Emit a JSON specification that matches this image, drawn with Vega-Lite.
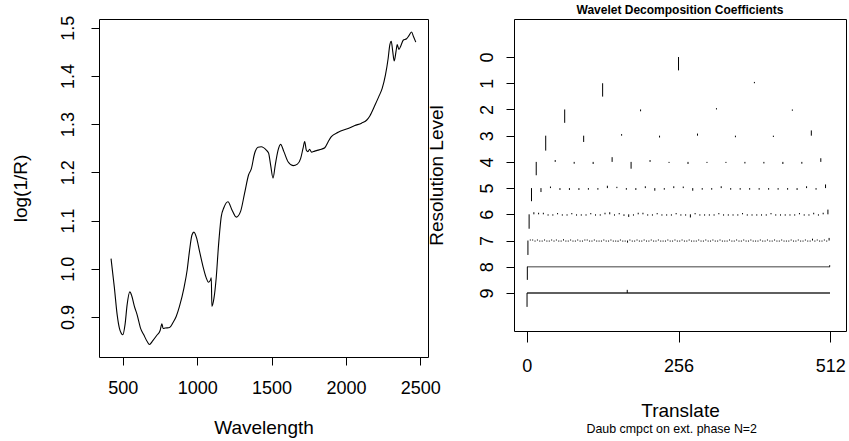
{
  "$schema": "https://vega.github.io/schema/vega-lite/v6.json",
  "background": "white",
  "padding": {"left": 10, "top": 3, "right": 0, "bottom": 0},
  "datasets": {
    "spectrum": [
      {"wl":421,"r":1.021},{"wl":443,"r":0.962},{"wl":462,"r":0.905},{"wl":477,"r":0.877},{"wl":490,"r":0.866},{"wl":500,"r":0.863},{"wl":515,"r":0.884},{"wl":529,"r":0.925},{"wl":547,"r":0.952},{"wl":561,"r":0.943},{"wl":578,"r":0.922},{"wl":596,"r":0.905},{"wl":619,"r":0.877},{"wl":641,"r":0.863},{"wl":664,"r":0.849},{"wl":679,"r":0.843},{"wl":702,"r":0.851},{"wl":729,"r":0.862},{"wl":751,"r":0.872},{"wl":763,"r":0.886},{"wl":771,"r":0.876},{"wl":785,"r":0.877},{"wl":814,"r":0.878},{"wl":837,"r":0.888},{"wl":859,"r":0.901},{"wl":881,"r":0.922},{"wl":911,"r":0.960},{"wl":933,"r":0.998},{"wl":948,"r":1.036},{"wl":965,"r":1.070},{"wl":978,"r":1.076},{"wl":996,"r":1.064},{"wl":1016,"r":1.036},{"wl":1039,"r":1.005},{"wl":1061,"r":0.981},{"wl":1076,"r":0.972},{"wl":1090,"r":0.977},{"wl":1095,"r":0.981},{"wl":1099,"r":0.922},{"wl":1113,"r":0.939},{"wl":1128,"r":0.981},{"wl":1144,"r":1.050},{"wl":1162,"r":1.108},{"wl":1180,"r":1.127},{"wl":1207,"r":1.139},{"wl":1234,"r":1.122},{"wl":1263,"r":1.107},{"wl":1292,"r":1.119},{"wl":1319,"r":1.157},{"wl":1346,"r":1.195},{"wl":1364,"r":1.207},{"wl":1386,"r":1.239},{"wl":1409,"r":1.252},{"wl":1431,"r":1.253},{"wl":1465,"r":1.246},{"wl":1480,"r":1.240},{"wl":1494,"r":1.215},{"wl":1510,"r":1.188},{"wl":1525,"r":1.215},{"wl":1544,"r":1.246},{"wl":1561,"r":1.258},{"wl":1583,"r":1.243},{"wl":1611,"r":1.222},{"wl":1645,"r":1.214},{"wl":1674,"r":1.217},{"wl":1696,"r":1.229},{"wl":1712,"r":1.250},{"wl":1723,"r":1.264},{"wl":1734,"r":1.246},{"wl":1745,"r":1.243},{"wl":1756,"r":1.248},{"wl":1768,"r":1.242},{"wl":1790,"r":1.244},{"wl":1813,"r":1.246},{"wl":1835,"r":1.248},{"wl":1858,"r":1.251},{"wl":1880,"r":1.263},{"wl":1902,"r":1.274},{"wl":1948,"r":1.283},{"wl":2015,"r":1.291},{"wl":2060,"r":1.297},{"wl":2105,"r":1.302},{"wl":2139,"r":1.308},{"wl":2161,"r":1.317},{"wl":2195,"r":1.339},{"wl":2221,"r":1.357},{"wl":2244,"r":1.374},{"wl":2266,"r":1.402},{"wl":2284,"r":1.436},{"wl":2295,"r":1.464},{"wl":2305,"r":1.472},{"wl":2314,"r":1.453},{"wl":2325,"r":1.431},{"wl":2338,"r":1.453},{"wl":2345,"r":1.465},{"wl":2356,"r":1.455},{"wl":2369,"r":1.462},{"wl":2385,"r":1.474},{"wl":2408,"r":1.477},{"wl":2423,"r":1.483},{"wl":2441,"r":1.491},{"wl":2455,"r":1.481},{"wl":2470,"r":1.470}
    ],
    "bands": [
      {"level":8,"t":0.5,"t2":511.5},{"level":9,"t":0.5,"t2":511.5}
    ],
    "coef": [
      {"level":0,"t":256,"end":0.51},
      {"level":1,"t":128,"end":1.51},{"level":1,"t":384,"end":0.95},
      {"level":2,"t":64,"end":2.51},{"level":2,"t":192,"end":2.07},{"level":2,"t":320,"end":1.95},{"level":2,"t":448,"end":2.05},
      {"level":3,"t":32,"end":3.57},{"level":3,"t":96,"end":3.24},{"level":3,"t":160,"end":2.94},{"level":3,"t":224,"end":3.07},{"level":3,"t":288,"end":2.92},{"level":3,"t":352,"end":3.06},{"level":3,"t":416,"end":3.05},{"level":3,"t":480,"end":2.8},
      {"level":4,"t":16,"end":4.51},{"level":4,"t":48,"end":3.93},{"level":4,"t":80,"end":4.07},{"level":4,"t":112,"end":4.08},{"level":4,"t":144,"end":3.82},{"level":4,"t":176,"end":4.26},{"level":4,"t":208,"end":3.93},{"level":4,"t":240,"end":4.04},{"level":4,"t":272,"end":4.08},{"level":4,"t":304,"end":4.04},{"level":4,"t":336,"end":4.04},{"level":4,"t":368,"end":4.06},{"level":4,"t":400,"end":4.06},{"level":4,"t":432,"end":4.08},{"level":4,"t":464,"end":4.07},{"level":4,"t":496,"end":3.86},
      {"level":5,"t":8,"end":5.5},{"level":5,"t":24,"end":5.15},{"level":5,"t":40,"end":4.94},{"level":5,"t":56,"end":5.07},{"level":5,"t":72,"end":5.07},{"level":5,"t":88,"end":5.07},{"level":5,"t":104,"end":5.06},{"level":5,"t":120,"end":5.06},{"level":5,"t":136,"end":4.91},{"level":5,"t":152,"end":4.95},{"level":5,"t":168,"end":5.06},{"level":5,"t":184,"end":5.07},{"level":5,"t":200,"end":4.93},{"level":5,"t":216,"end":5.1},{"level":5,"t":232,"end":5.06},{"level":5,"t":248,"end":4.93},{"level":5,"t":264,"end":4.94},{"level":5,"t":280,"end":5.1},{"level":5,"t":296,"end":5.06},{"level":5,"t":312,"end":5.06},{"level":5,"t":328,"end":4.93},{"level":5,"t":344,"end":5.06},{"level":5,"t":360,"end":5.06},{"level":5,"t":376,"end":5.06},{"level":5,"t":392,"end":5.06},{"level":5,"t":408,"end":5.06},{"level":5,"t":424,"end":5.06},{"level":5,"t":440,"end":5.06},{"level":5,"t":456,"end":5.07},{"level":5,"t":472,"end":4.93},{"level":5,"t":488,"end":5.06},{"level":5,"t":504,"end":4.86},
      {"level":6,"t":4,"end":6.55},{"level":6,"t":12,"end":5.92},{"level":6,"t":20,"end":5.94},{"level":6,"t":28,"end":5.94},{"level":6,"t":36,"end":6.05},{"level":6,"t":44,"end":6.05},{"level":6,"t":52,"end":5.95},{"level":6,"t":60,"end":6.05},{"level":6,"t":68,"end":6.05},{"level":6,"t":76,"end":5.95},{"level":6,"t":84,"end":6.05},{"level":6,"t":92,"end":6.05},{"level":6,"t":100,"end":6.05},{"level":6,"t":108,"end":5.95},{"level":6,"t":116,"end":6.05},{"level":6,"t":124,"end":6.05},{"level":6,"t":132,"end":5.94},{"level":6,"t":140,"end":5.92},{"level":6,"t":148,"end":6.05},{"level":6,"t":156,"end":5.95},{"level":6,"t":164,"end":6.06},{"level":6,"t":172,"end":6.1},{"level":6,"t":180,"end":6.05},{"level":6,"t":188,"end":5.94},{"level":6,"t":196,"end":5.94},{"level":6,"t":204,"end":6.05},{"level":6,"t":212,"end":6.05},{"level":6,"t":220,"end":5.95},{"level":6,"t":228,"end":6.05},{"level":6,"t":236,"end":6.05},{"level":6,"t":244,"end":6.05},{"level":6,"t":252,"end":5.95},{"level":6,"t":260,"end":6.05},{"level":6,"t":268,"end":6.05},{"level":6,"t":276,"end":6.12},{"level":6,"t":284,"end":5.95},{"level":6,"t":292,"end":6.05},{"level":6,"t":300,"end":6.05},{"level":6,"t":308,"end":6.05},{"level":6,"t":316,"end":6.05},{"level":6,"t":324,"end":5.95},{"level":6,"t":332,"end":6.05},{"level":6,"t":340,"end":6.05},{"level":6,"t":348,"end":6.05},{"level":6,"t":356,"end":6.05},{"level":6,"t":364,"end":5.95},{"level":6,"t":372,"end":6.05},{"level":6,"t":380,"end":6.05},{"level":6,"t":388,"end":6.05},{"level":6,"t":396,"end":6.05},{"level":6,"t":404,"end":6.05},{"level":6,"t":412,"end":5.95},{"level":6,"t":420,"end":6.05},{"level":6,"t":428,"end":6.05},{"level":6,"t":436,"end":6.05},{"level":6,"t":444,"end":6.05},{"level":6,"t":452,"end":6.05},{"level":6,"t":460,"end":5.95},{"level":6,"t":468,"end":6.05},{"level":6,"t":476,"end":6.05},{"level":6,"t":484,"end":5.94},{"level":6,"t":492,"end":6.05},{"level":6,"t":500,"end":5.94},{"level":6,"t":508,"end":5.82},
      {"level":7,"t":2,"end":7.55},{"level":7,"t":6,"end":6.96},{"level":7,"t":10,"end":6.96},{"level":7,"t":14,"end":7.04},{"level":7,"t":18,"end":6.96},{"level":7,"t":22,"end":7.04},{"level":7,"t":26,"end":7.04},{"level":7,"t":30,"end":6.96},{"level":7,"t":34,"end":7.04},{"level":7,"t":38,"end":7.04},{"level":7,"t":42,"end":6.96},{"level":7,"t":46,"end":7.04},{"level":7,"t":50,"end":6.96},{"level":7,"t":54,"end":7.04},{"level":7,"t":58,"end":7.04},{"level":7,"t":62,"end":6.95},{"level":7,"t":66,"end":7.04},{"level":7,"t":70,"end":7.04},{"level":7,"t":74,"end":6.96},{"level":7,"t":78,"end":7.04},{"level":7,"t":82,"end":7.04},{"level":7,"t":86,"end":6.96},{"level":7,"t":90,"end":7.04},{"level":7,"t":94,"end":7.04},{"level":7,"t":98,"end":6.96},{"level":7,"t":102,"end":6.96},{"level":7,"t":106,"end":7.04},{"level":7,"t":110,"end":7.04},{"level":7,"t":114,"end":6.96},{"level":7,"t":118,"end":7.04},{"level":7,"t":122,"end":7.04},{"level":7,"t":126,"end":7.04},{"level":7,"t":130,"end":6.96},{"level":7,"t":134,"end":7.04},{"level":7,"t":138,"end":7.04},{"level":7,"t":142,"end":6.96},{"level":7,"t":146,"end":7.04},{"level":7,"t":150,"end":7.04},{"level":7,"t":154,"end":7.05},{"level":7,"t":158,"end":6.96},{"level":7,"t":162,"end":7.04},{"level":7,"t":166,"end":7.04},{"level":7,"t":170,"end":7.08},{"level":7,"t":174,"end":6.96},{"level":7,"t":178,"end":7.04},{"level":7,"t":182,"end":7.04},{"level":7,"t":186,"end":6.96},{"level":7,"t":190,"end":7.04},{"level":7,"t":194,"end":7.04},{"level":7,"t":198,"end":6.96},{"level":7,"t":202,"end":7.04},{"level":7,"t":206,"end":7.04},{"level":7,"t":210,"end":6.96},{"level":7,"t":214,"end":7.04},{"level":7,"t":218,"end":7.04},{"level":7,"t":222,"end":6.96},{"level":7,"t":226,"end":7.04},{"level":7,"t":230,"end":7.04},{"level":7,"t":234,"end":7.04},{"level":7,"t":238,"end":6.96},{"level":7,"t":242,"end":7.04},{"level":7,"t":246,"end":7.04},{"level":7,"t":250,"end":6.96},{"level":7,"t":254,"end":7.04},{"level":7,"t":258,"end":7.04},{"level":7,"t":262,"end":6.96},{"level":7,"t":266,"end":7.04},{"level":7,"t":270,"end":7.04},{"level":7,"t":274,"end":6.96},{"level":7,"t":278,"end":7.04},{"level":7,"t":282,"end":7.04},{"level":7,"t":286,"end":7.04},{"level":7,"t":290,"end":6.96},{"level":7,"t":294,"end":7.04},{"level":7,"t":298,"end":7.04},{"level":7,"t":302,"end":6.96},{"level":7,"t":306,"end":7.04},{"level":7,"t":310,"end":7.04},{"level":7,"t":314,"end":6.96},{"level":7,"t":318,"end":7.04},{"level":7,"t":322,"end":7.04},{"level":7,"t":326,"end":6.96},{"level":7,"t":330,"end":7.04},{"level":7,"t":334,"end":7.04},{"level":7,"t":338,"end":7.04},{"level":7,"t":342,"end":6.96},{"level":7,"t":346,"end":7.04},{"level":7,"t":350,"end":7.04},{"level":7,"t":354,"end":6.96},{"level":7,"t":358,"end":7.04},{"level":7,"t":362,"end":7.04},{"level":7,"t":366,"end":6.96},{"level":7,"t":370,"end":7.04},{"level":7,"t":374,"end":7.04},{"level":7,"t":378,"end":6.96},{"level":7,"t":382,"end":7.04},{"level":7,"t":386,"end":7.04},{"level":7,"t":390,"end":7.04},{"level":7,"t":394,"end":6.96},{"level":7,"t":398,"end":7.04},{"level":7,"t":402,"end":7.04},{"level":7,"t":406,"end":6.96},{"level":7,"t":410,"end":7.04},{"level":7,"t":414,"end":7.04},{"level":7,"t":418,"end":6.96},{"level":7,"t":422,"end":7.04},{"level":7,"t":426,"end":7.04},{"level":7,"t":430,"end":6.96},{"level":7,"t":434,"end":7.04},{"level":7,"t":438,"end":7.04},{"level":7,"t":442,"end":7.04},{"level":7,"t":446,"end":6.96},{"level":7,"t":450,"end":7.04},{"level":7,"t":454,"end":7.04},{"level":7,"t":458,"end":6.96},{"level":7,"t":462,"end":7.04},{"level":7,"t":466,"end":7.04},{"level":7,"t":470,"end":6.96},{"level":7,"t":474,"end":7.04},{"level":7,"t":478,"end":7.04},{"level":7,"t":482,"end":6.93},{"level":7,"t":486,"end":7.04},{"level":7,"t":490,"end":6.96},{"level":7,"t":494,"end":7.04},{"level":7,"t":498,"end":7.04},{"level":7,"t":502,"end":6.96},{"level":7,"t":506,"end":7.04},{"level":7,"t":510,"end":6.9},
      {"level":8,"t":1,"end":8.5},{"level":8,"t":511,"end":7.94},
      {"level":9,"t":0.5,"end":9.53},{"level":9,"t":169.5,"end":8.88}
    ]
  },
  "spacing": -15,
  "hconcat": [
    {
      "width": 329,
      "height": 338,
      "data": {"name": "spectrum"},
      "mark": {"type": "line", "color": "black", "strokeWidth": 1.1, "interpolate": "monotone"},
      "encoding": {
        "x": {
          "field": "wl", "type": "quantitative",
          "scale": {"domain": [340, 2552], "nice": false, "zero": false},
          "axis": {"values": [500, 1000, 1500, 2000, 2500], "format": "d", "title": "Wavelength", "labelPadding": 14, "titlePadding": 21}
        },
        "y": {
          "field": "r", "type": "quantitative",
          "scale": {"domain": [0.817, 1.518], "nice": false, "zero": false},
          "axis": {"values": [0.9, 1.0, 1.1, 1.2, 1.3, 1.4, 1.5], "format": ".1f", "title": "log(1/R)", "labelAngle": -90, "labelAlign": "center", "labelBaseline": "bottom", "labelPadding": 14, "titlePadding": 29, "labelOverlap": false}
        }
      }
    },
    {
      "title": {"text": "Daub cmpct on ext. phase N=2", "orient": "bottom", "fontSize": 12.4, "fontWeight": "normal", "offset": 2, "dx": 160, "color": "black"},
      "vconcat": [
        {
          "width": 332,
          "height": 312,
          "title": {"text": "Wavelet Decomposition Coefficients", "fontSize": 12, "fontWeight": "bold", "offset": 2, "color": "black"},
          "encoding": {
            "x": {
              "field": "t", "type": "quantitative",
              "scale": {"domain": [-21.5, 538.5], "nice": false, "zero": false},
              "axis": {"values": [0, 256, 512], "title": "Translate", "tickSize": 11, "labelPadding": 15, "titlePadding": 26}
            },
            "y": {
              "field": "level", "type": "quantitative",
              "scale": {"domain": [-1.45, 10.45], "nice": false, "zero": false, "reverse": true},
              "axis": {"values": [0, 1, 2, 3, 4, 5, 6, 7, 8, 9], "format": "d", "title": "Resolution Level", "labelAngle": -90, "labelAlign": "center", "labelBaseline": "bottom", "labelPadding": 10, "titlePadding": 32, "labelOverlap": false, "labelSeparation": 0}
            }
          },
          "layer": [
            {
              "data": {"name": "bands"},
              "mark": {"type": "rule", "strokeWidth": 1.5},
              "encoding": {
                "x2": {"field": "t2"},
                "color": {"field": "level", "type": "ordinal", "scale": {"domain": [8, 9], "range": ["#808080", "#2a2a2a"]}, "legend": null}
              }
            },
            {
              "data": {"name": "coef"},
              "mark": {"type": "rule", "color": "black", "strokeWidth": 1},
              "encoding": {
                "y2": {"field": "end"}
              }
            }
          ]
        }
      ]
    }
  ],
  "config": {
    "font": "Liberation Sans",
    "view": {"stroke": "black", "strokeWidth": 1},
    "title": {"font": "Liberation Sans", "color": "black"},
    "axis": {
      "domain": false, "grid": false, "labelOverlap": false,
      "tickColor": "black", "tickSize": 8, "tickWidth": 1,
      "labelColor": "black", "labelFontSize": 18, "labelFont": "Liberation Sans",
      "titleColor": "black", "titleFontSize": 19, "titleFontWeight": "normal", "titleFont": "Liberation Sans"
    }
  }
}
